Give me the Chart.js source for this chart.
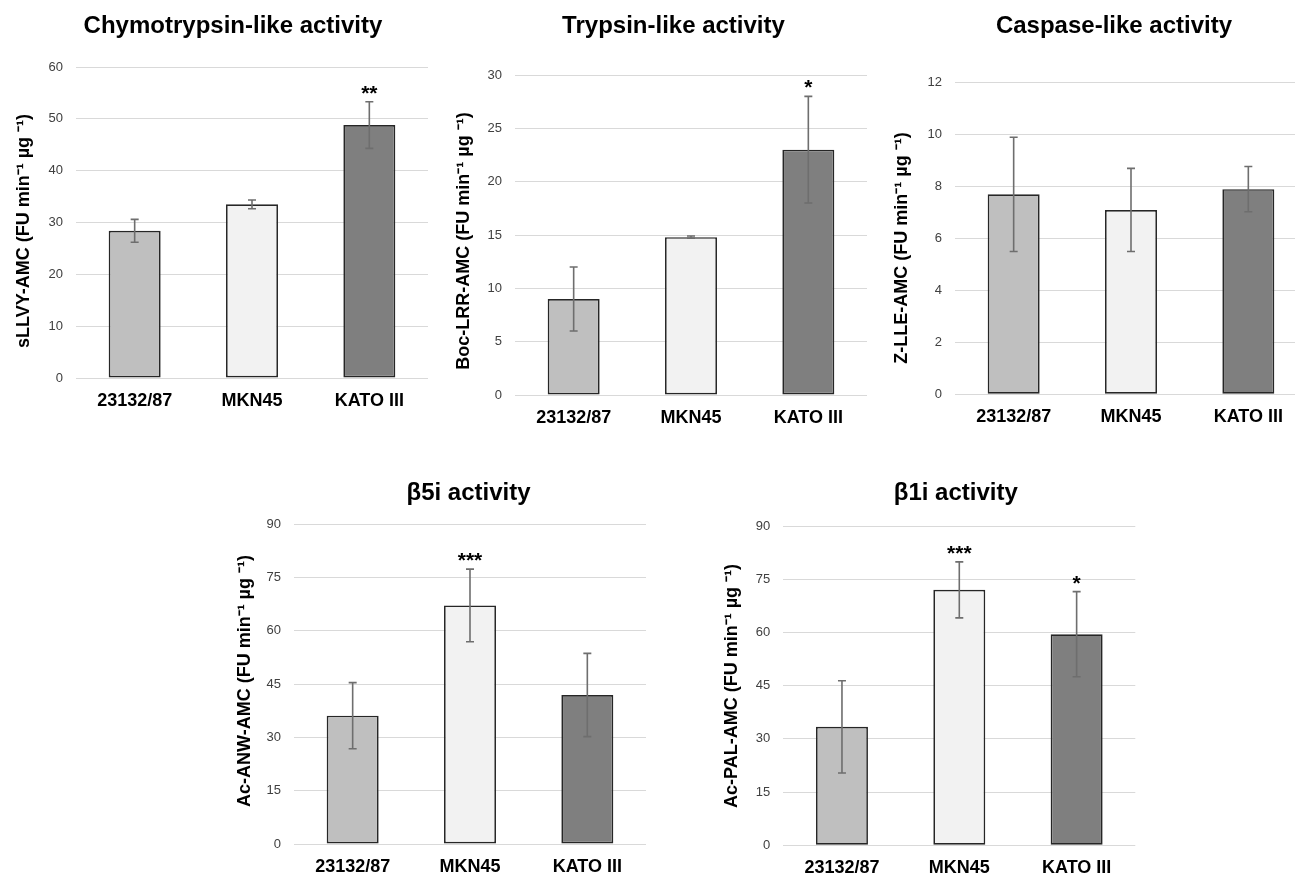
<!DOCTYPE html>
<html>
<head>
<meta charset="utf-8">
<script src="https://cdn.jsdelivr.net/npm/chart.js@4/dist/chart.umd.min.js"></script>
<style>
  html, body { margin: 0; padding: 0; background: #fff; width: 1295px; height: 875px; overflow: hidden; }
  canvas { position: absolute; }
</style>
</head>
<body>
<canvas id="c1"></canvas>
<canvas id="c2"></canvas>
<canvas id="c3"></canvas>
<canvas id="c4"></canvas>
<canvas id="c5"></canvas>
<script>
// ---- data ----
const categories = ['23132/87', 'MKN45', 'KATO III'];

const chymoValues = [28.4, 33.5, 48.8];
const chymoErrors = [2.2, 0.85, 4.5];
const chymoSig = ['', '', '**'];

const trypValues = [9.0, 14.8, 23.0];
const trypErrors = [3.0, 0.1, 5.0];
const trypSig = ['', '', '*'];

const caspValues = [7.7, 7.1, 7.9];
const caspErrors = [2.2, 1.6, 0.87];
const caspSig = ['', '', ''];

const b5iValues = [36.1, 67.1, 41.9];
const b5iErrors = [9.3, 10.2, 11.7];
const b5iSig = ['', '***', ''];

const b1iValues = [33.4, 72.0, 59.5];
const b1iErrors = [13.0, 7.9, 12.0];
const b1iSig = ['', '***', '*'];

const titles = ['Chymotrypsin-like activity', 'Trypsin-like activity', 'Caspase-like activity', 'β5i activity', 'β1i activity'];
const yTitles = ['sLLVY-AMC (FU min⁻¹ µg ⁻¹)', 'Boc-LRR-AMC (FU min⁻¹ µg ⁻¹)', 'Z-LLE-AMC (FU min⁻¹ µg ⁻¹)', 'Ac-ANW-AMC (FU min⁻¹ µg ⁻¹)', 'Ac-PAL-AMC (FU min⁻¹ µg ⁻¹)'];
const yMax = [60, 30, 12, 90, 90];
const yStep = [10, 5, 2, 15, 15];

const barColors = ['#bfbfbf', '#f2f2f2', '#7f7f7f'];
const FONT = "'Liberation Sans', Arial, sans-serif";

// ---- layout (canvas boxes, page coordinates) ----
const panels = [
  { id: 'c1', L: 0,   T: 0,   W: 450, H: 440, yW: 62,   pad: { left: 14,   right: 22,   top: 67,   bottom: 22 },  titleX: 233,   titleY: 26,  axX: 24.5,  axY: 231, values: chymoValues, errors: chymoErrors, sig: chymoSig },
  { id: 'c2', L: 440, T: 0,   W: 440, H: 440, yW: 62,   pad: { left: 13,   right: 13,   top: 75,   bottom: 5 },   titleX: 673.5, titleY: 26,  axX: 464,   axY: 241, values: trypValues,  errors: trypErrors,  sig: trypSig },
  { id: 'c3', L: 880, T: 0,   W: 440, H: 440, yW: 63.3, pad: { left: 11.7, right: 13,   top: 82.7, bottom: 5.7 }, titleX: 1114,  titleY: 26,  axX: 902.5, axY: 248, values: caspValues,  errors: caspErrors,  sig: caspSig },
  { id: 'c4', L: 220, T: 460, W: 440, H: 440, yW: 60,   pad: { left: 14,   right: 14,   top: 64,   bottom: 16 },  titleX: 468.5, titleY: 493, axX: 245,   axY: 681, values: b5iValues,   errors: b5iErrors,   sig: b5iSig },
  { id: 'c5', L: 710, T: 460, W: 440, H: 440, yW: 61.6, pad: { left: 11.7, right: 14.7, top: 66,   bottom: 14.7 },titleX: 955.8, titleY: 493, axX: 732.5, axY: 686, values: b1iValues,   errors: b1iErrors,   sig: b1iSig }
];

const annotPlugin = {
  id: 'annot',
  afterDatasetsDraw(chart, args, opts) {
    const ctx = chart.ctx;
    const meta = chart.getDatasetMeta(0);
    const ys = chart.scales.y;
    ctx.save();
    opts.values.forEach((v, i) => {
      const x = meta.data[i].x;
      const e = opts.errors[i];
      const yt = ys.getPixelForValue(v + e);
      const yb = ys.getPixelForValue(v - e);
      ctx.strokeStyle = '#6e6e6e';
      ctx.lineWidth = 1.6;
      ctx.beginPath();
      ctx.moveTo(x, yt); ctx.lineTo(x, yb);
      ctx.moveTo(x - 4, yt); ctx.lineTo(x + 4, yt);
      ctx.moveTo(x - 4, yb); ctx.lineTo(x + 4, yb);
      ctx.stroke();
      if (opts.sig[i]) {
        ctx.fillStyle = '#000';
        ctx.font = 'bold 21px ' + FONT;
        ctx.textAlign = 'center';
        ctx.textBaseline = 'alphabetic';
        ctx.fillText(opts.sig[i], x, yt - 2);
      }
    });
    // chart title
    ctx.fillStyle = '#000';
    ctx.font = 'bold 24px ' + FONT;
    ctx.textAlign = 'center';
    ctx.textBaseline = 'middle';
    ctx.fillText(opts.title, opts.tx, opts.ty);
    // y-axis title
    ctx.save();
    ctx.translate(opts.ax, opts.ay);
    ctx.rotate(-Math.PI / 2);
    ctx.font = 'bold 18px ' + FONT;
    ctx.textAlign = 'center';
    ctx.textBaseline = 'middle';
    ctx.fillText(opts.yTitle, 0, 0);
    ctx.restore();
    ctx.restore();
  }
};

panels.forEach((p, k) => {
  const cv = document.getElementById(p.id);
  cv.width = p.W; cv.height = p.H;
  cv.style.left = p.L + 'px'; cv.style.top = p.T + 'px';
  cv.style.width = p.W + 'px'; cv.style.height = p.H + 'px';
  new Chart(cv, {
    type: 'bar',
    data: {
      labels: categories,
      datasets: [{
        data: p.values,
        backgroundColor: barColors,
        borderColor: '#262626',
        borderWidth: 1.7,
        borderSkipped: false,
        categoryPercentage: 1,
        barPercentage: 0.443
      }]
    },
    options: {
      responsive: false,
      animation: false,
      events: [],
      layout: { padding: p.pad },
      plugins: {
        legend: { display: false },
        tooltip: { enabled: false },
        title: { display: false },
        annot: { values: p.values, errors: p.errors, sig: p.sig, title: titles[k], tx: p.titleX - p.L, ty: p.titleY - p.T,
                 yTitle: yTitles[k], ax: p.axX - p.L, ay: p.axY - p.T }
      },
      scales: {
        x: {
          grid: { display: false, drawTicks: false },
          border: { display: false },
          ticks: { color: '#000', font: { family: FONT, size: 18, weight: 'bold' }, padding: 12, maxRotation: 0 },
          afterFit(s) { s.height = 40; }
        },
        y: {
          min: 0, max: yMax[k],
          ticks: { stepSize: yStep[k], color: '#404040', font: { family: FONT, size: 13 }, padding: 13 },
          grid: { color: '#d9d9d9', lineWidth: 1, drawTicks: false },
          border: { display: false },
          title: { display: false },
          afterFit(s) { s.width = p.yW; }
        }
      }
    },
    plugins: [annotPlugin]
  });
});
</script>
</body>
</html>
